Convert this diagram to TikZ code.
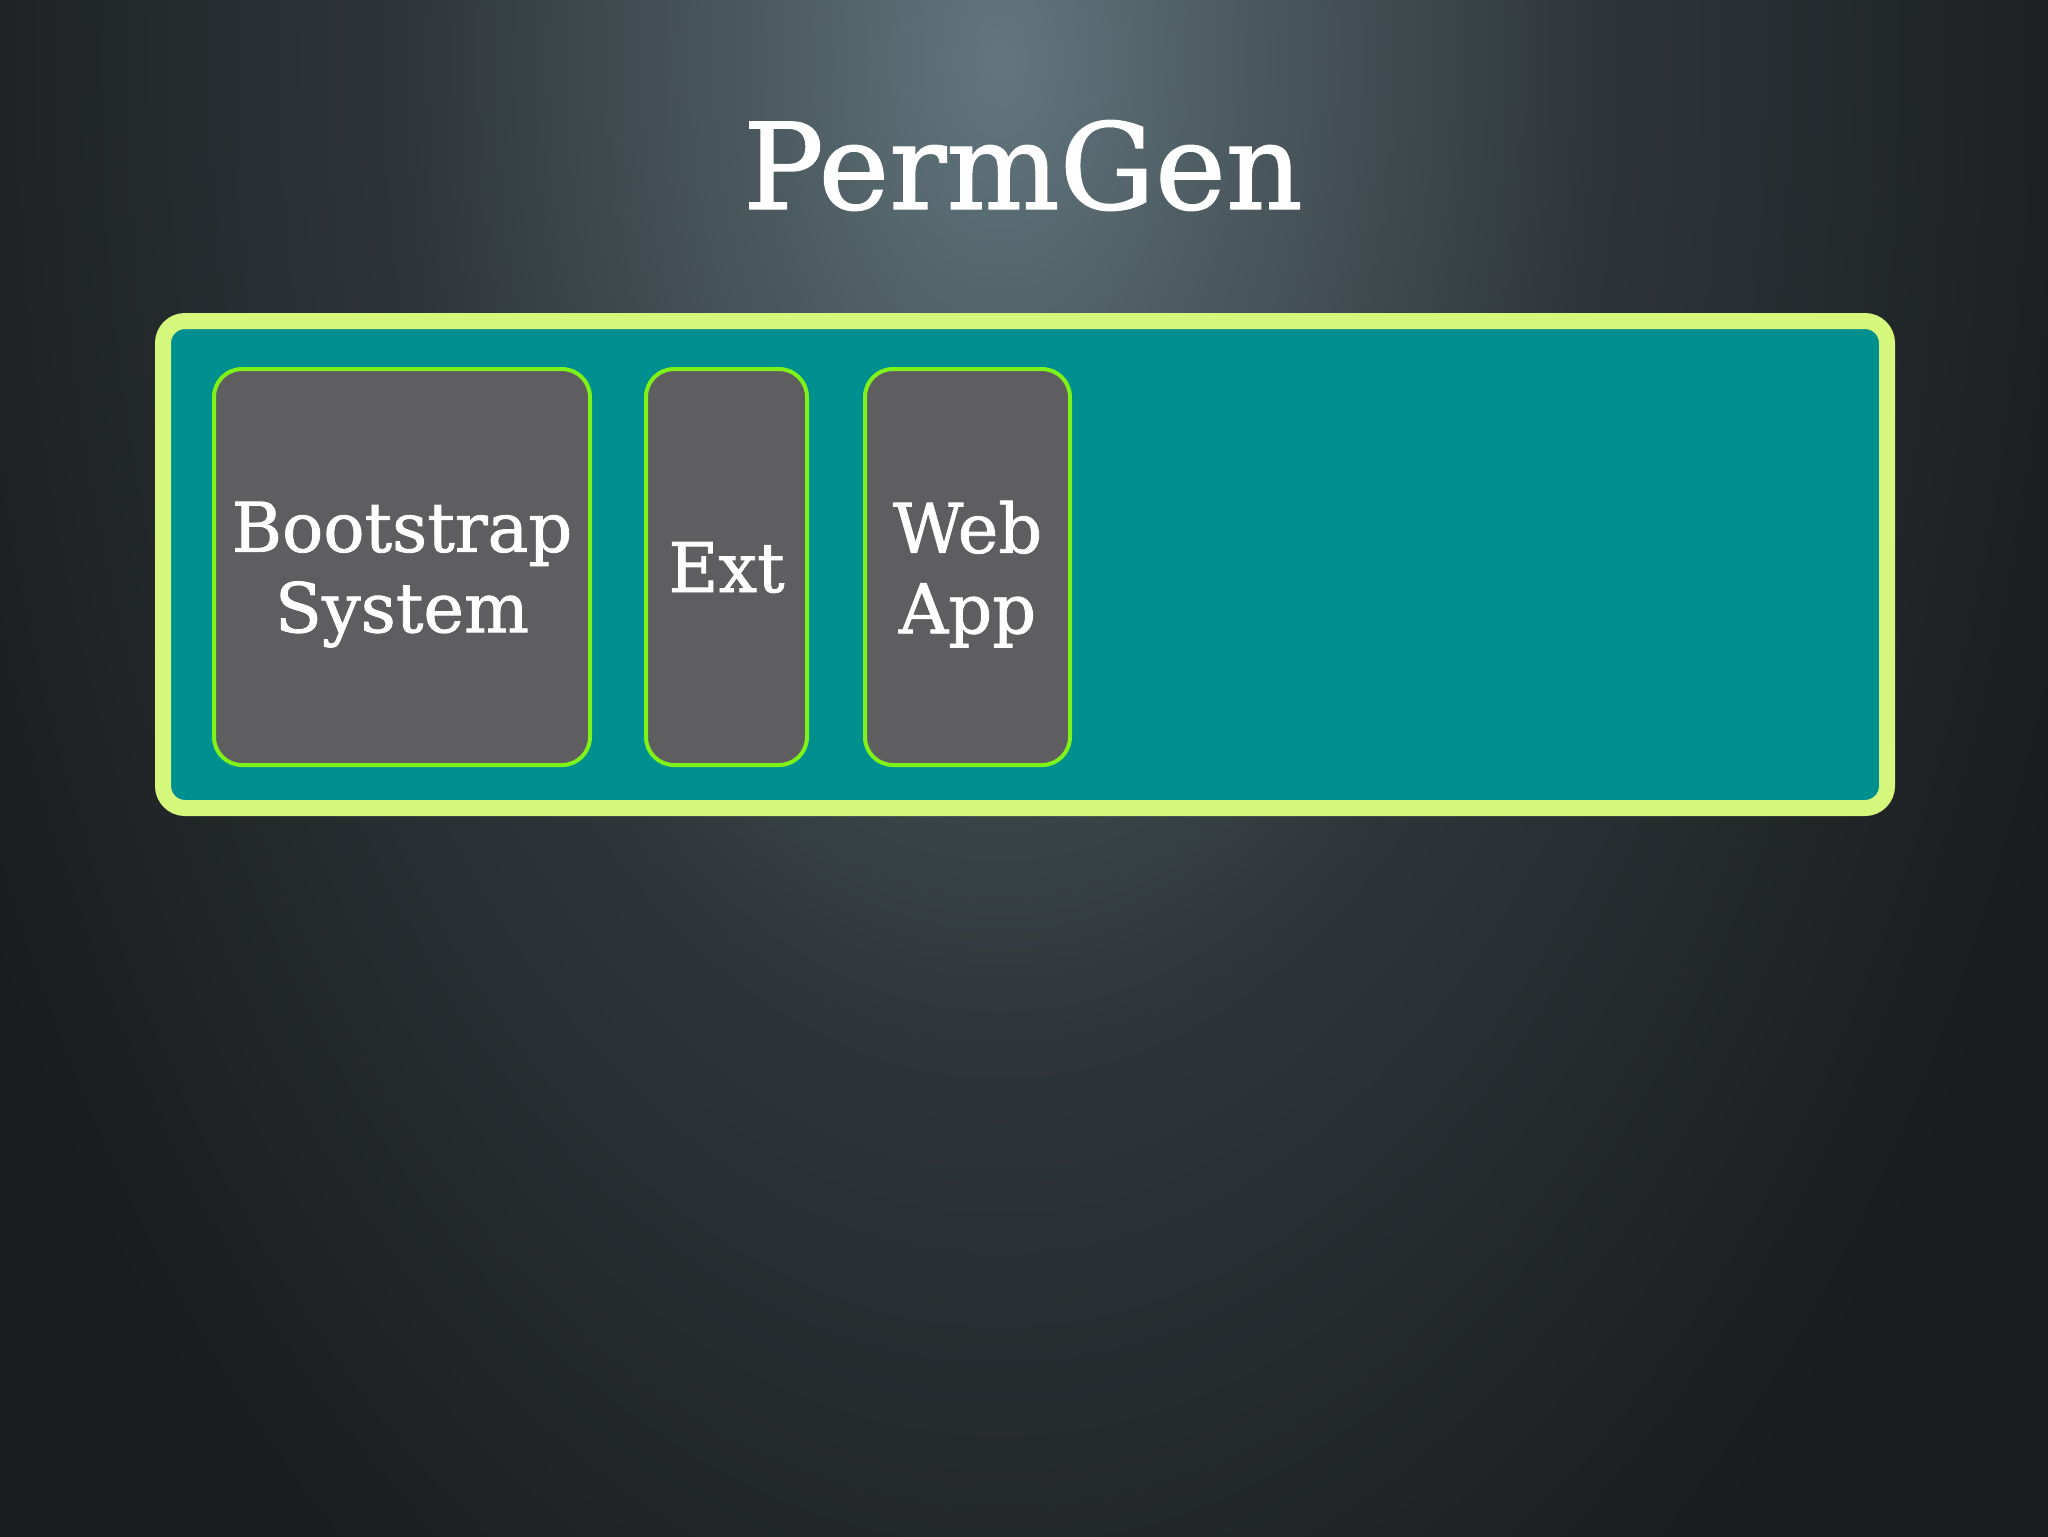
\documentclass[tikz,border=0pt]{standalone}
\usepackage{fontspec}
\setmainfont{DejaVu Serif}
\newfontfamily\slidefont{DejaVu Serif}[FakeBold=1.2]
\usepackage{tikz}
\usetikzlibrary{positioning}
\definecolor{bgdark}{HTML}{1A1C1E}
\definecolor{bgglow}{HTML}{62767E}
\definecolor{heapfill}{HTML}{008F8F}
\definecolor{heapline}{HTML}{D5F77C}
\definecolor{loaderfill}{HTML}{5E5D60}
\definecolor{loaderline}{HTML}{7FF21A}
\pgfdeclareradialshading{glow}{\pgfpoint{0bp}{0bp}}{color(0bp)=(bgglow); color(5bp)=(bgglow!70!bgdark); color(13bp)=(bgdark!72!bgglow); color(25bp)=(bgdark); color(50bp)=(bgdark)}
\newcommand{\titlefont}{\slidefont\fontsize{34}{40}\selectfont}
\newcommand{\loaderfont}{\slidefont\fontsize{19.5}{22.9}\selectfont}
\tikzset{
  heap/.style={draw=heapline, fill=heapfill, line width=1.6mm, rounded corners=2.2mm, inner sep=0pt, outer sep=0pt},
  loader/.style={draw=loaderline, fill=loaderfill, line width=0.4mm, rounded corners=2.8mm, minimum height=39.6mm, inner sep=0pt, outer sep=0pt, align=center, text depth=0pt, text=white, font=\loaderfont},
}

\begin{document}
\begin{tikzpicture}[x=0.1mm, y=-0.1mm]
  % slide background
  \useasboundingbox (0,0) rectangle (2048,1536);
  \fill[bgdark] (-10,-10) rectangle (2058,1546);
  \begin{scope}
    \clip (-10,-10) rectangle (2058,1546);
    \shade[shading=glow] (1000,60) ellipse [x radius=1150, y radius=1900];
  \end{scope}

  \node[font=\titlefont, text=white, anchor=base] (title) at (1023,209) {PermGen};

  % permanent generation
  \node[heap, minimum width=172.4mm, minimum height=48.7mm] (permgen) at (1025,564.5) {};

  % class loaders
  \node[loader, minimum width=37.6mm] (boot) at (402,567) {Bootstrap\\System};
  \node[loader, minimum width=16.1mm, right=5.6mm of boot] (ext) {Ext};
  \node[loader, minimum width=20.5mm, right=5.8mm of ext] (webapp) {Web\\App};
\end{tikzpicture}
\end{document}
